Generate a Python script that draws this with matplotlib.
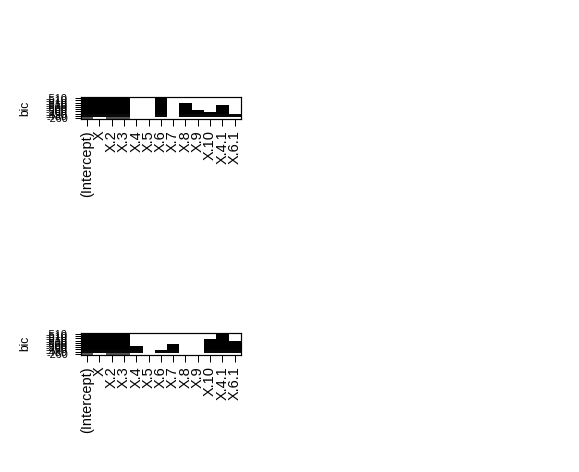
import numpy as np
import matplotlib
matplotlib.use("Agg")
import matplotlib.pyplot as plt
from matplotlib.colors import ListedColormap

plt.rcParams['font.family'] = ['Liberation Sans', 'DejaVu Sans']

variables = ["(Intercept)", "X", "X.2", "X.3", "X.4", "X.5", "X.6",
             "X.7", "X.8", "X.9", "X.10", "X.4.1", "X.6.1"]

# models listed from worst bic (bottom row) to best bic (top row)
bic_top = [-260, -480, -490, -500, -500, -500, -510, -510, -510, -510]
which_top = [
    "1011000000000",
    "1111001011111",
    "1111001011110",
    "1111001011010",
    "1111001010010",
    "1111001010010",
    "1111001010000",
    "1111001000000",
    "1111001000000",
    "1111000000000",
]

bic_bottom = [-260, -480, -490, -500, -500, -500, -510, -510, -510, -510]
which_bottom = [
    "1011000000000",
    "1111101100111",
    "1111100100111",
    "1111100100111",
    "1111000100111",
    "1111000000111",
    "1111000000110",
    "1111000000010",
    "1111000000010",
    "1111000000000",
]


def draw_regsubsets(ax, which, bic):
    mat = np.array([[int(c) for c in row] for row in which], dtype=float)
    vals = np.array(bic, dtype=float)
    z = np.where(mat == 1, vals[:, None], np.nan)
    z = np.ma.masked_invalid(z)
    cmap = ListedColormap([str(g) for g in np.linspace(0, 0.33, 10)])
    cmap.set_bad("white")
    nm, nv = mat.shape
    ax.imshow(z, cmap=cmap, vmin=vals.min(), vmax=vals.max(),
              origin="lower", aspect="auto", interpolation="nearest",
              extent=(0.5, nv + 0.5, 0.5, nm + 0.5))
    ax.set_xlim(0.5, nv + 0.5)
    ax.set_ylim(0.5, nm + 0.5)
    ax.set_xticks(np.arange(1, nv + 1))
    ax.set_xticklabels(variables)
    ax.set_yticks(np.arange(1, nm + 1))
    ax.set_yticklabels([str(int(v)) for v in bic])
    ax.tick_params(axis="x", length=7, width=1, pad=4, labelsize=14.5,
                   labelrotation=90)
    ax.tick_params(axis="y", length=6, width=1, pad=7, labelsize=11)
    for s in ax.spines.values():
        s.set_linewidth(1.2)
    ax.set_ylabel("bic", fontsize=12)
    ax.yaxis.set_label_coords(-0.31, 0.5)


fig = plt.figure(figsize=(579 / 72, 472 / 72), dpi=72)
ax1 = fig.add_axes([81 / 579, 1 - 119.3 / 472, 159.7 / 579, 22.3 / 472])
draw_regsubsets(ax1, which_top, bic_top)
ax2 = fig.add_axes([81 / 579, 1 - 355 / 472, 159.7 / 579, 22.3 / 472])
draw_regsubsets(ax2, which_bottom, bic_bottom)

fig.savefig("out.png", dpi=72)
